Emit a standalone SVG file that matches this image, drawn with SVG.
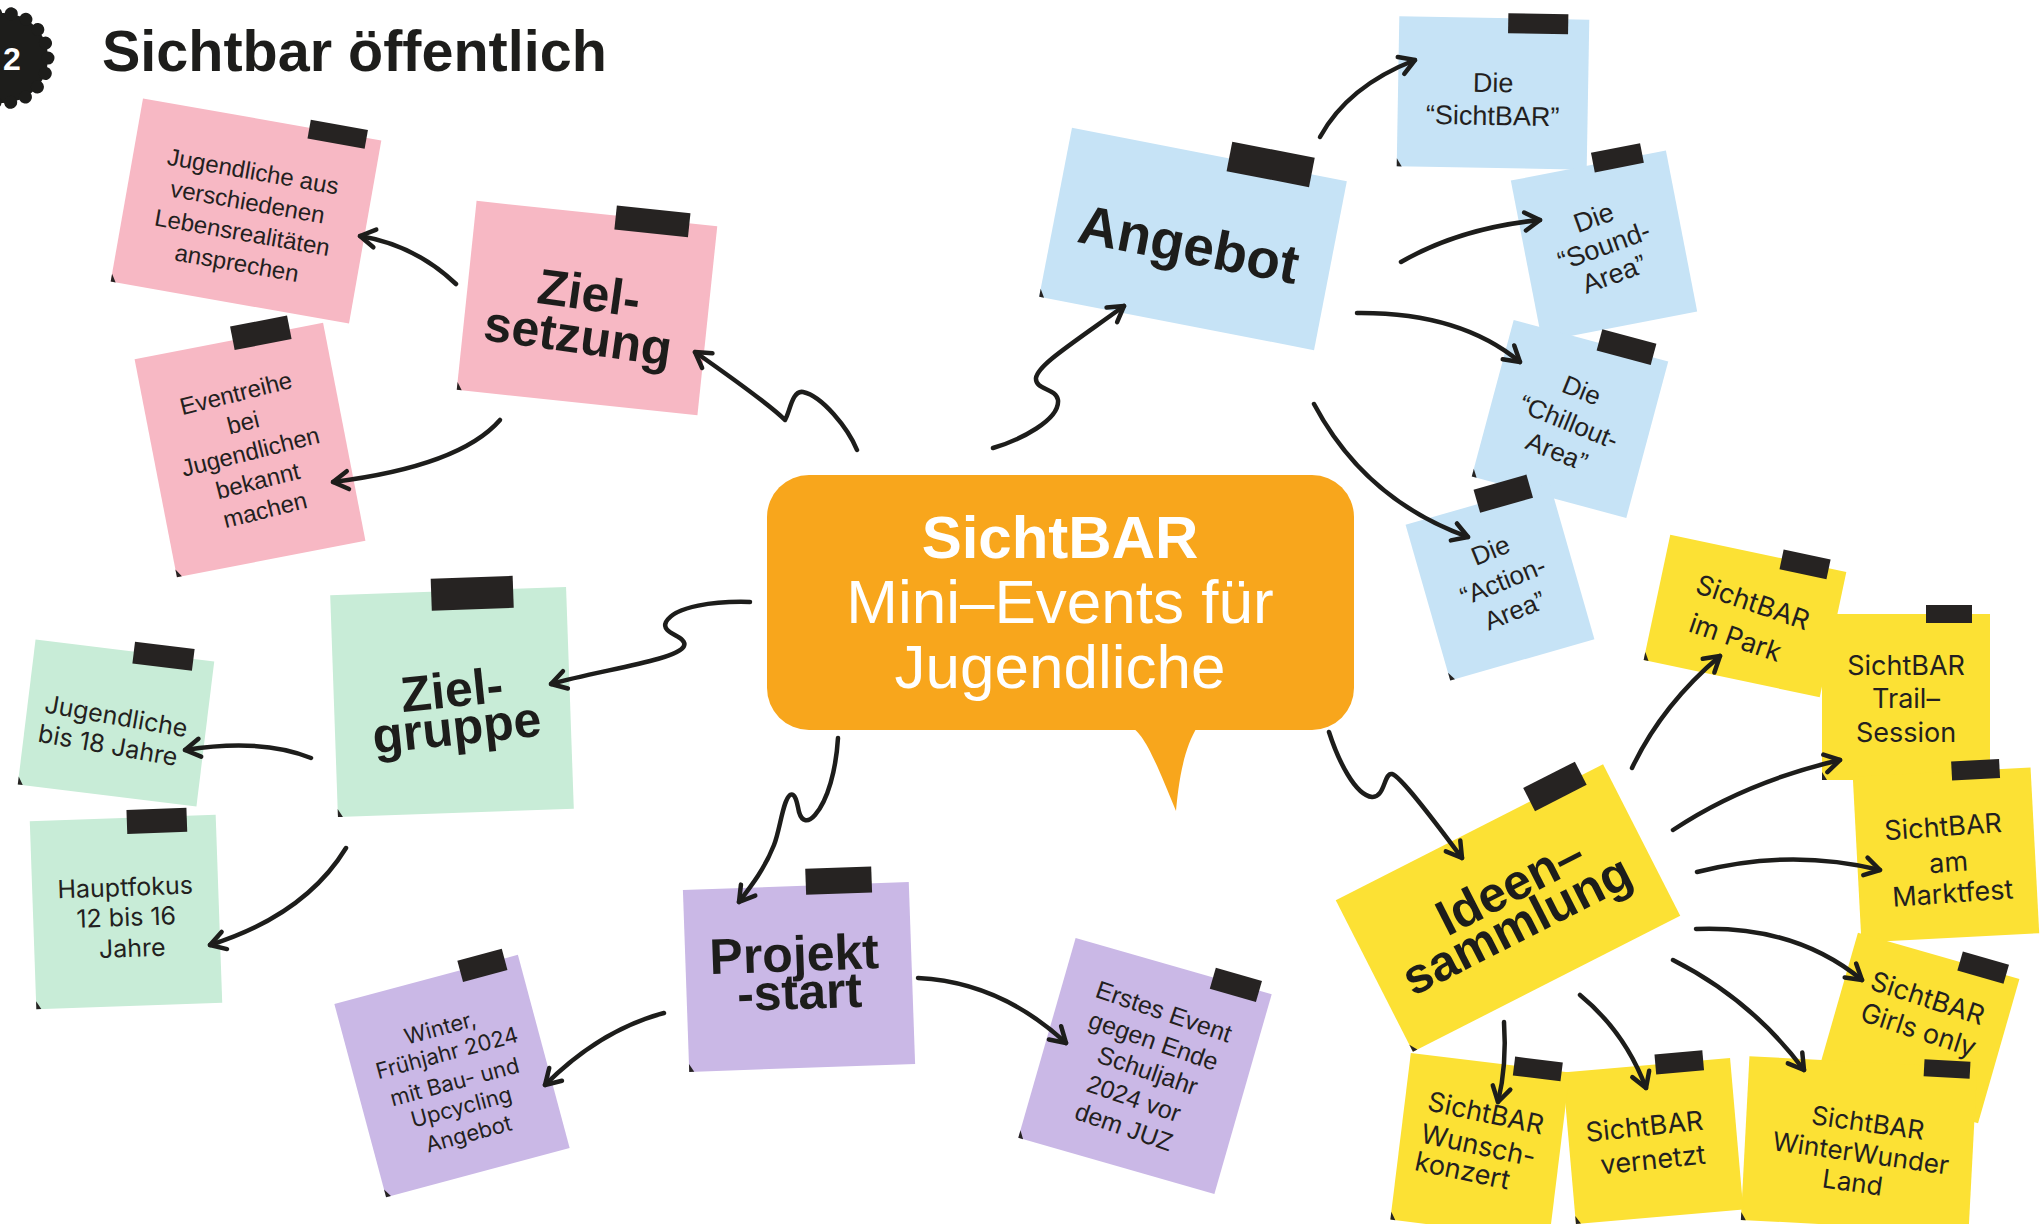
<svg xmlns="http://www.w3.org/2000/svg" width="2044" height="1224" viewBox="0 0 2044 1224">
<defs>
<style>
.pink{fill:#F7B8C4}
.blue{fill:#C6E3F6}
.green{fill:#C8ECD7}
.purple{fill:#CAB8E6}
.yellow{fill:#FCE134}
.tape{fill:#262322}
.pin{fill:#262322}
.hd{font-family:"Liberation Sans",Arial,Helvetica,sans-serif;font-weight:700;font-size:50px;fill:#1d1d1b;text-anchor:middle}
.nh{font-family:"Liberation Sans",Arial,Helvetica,sans-serif;font-size:24px;fill:#231f20;text-anchor:middle}
.ng{font-family:Inter,"Liberation Sans",Arial,sans-serif;font-size:25px;fill:#231f20;text-anchor:middle}
.con{fill:none;stroke:#1d1d1b;stroke-width:4.5;stroke-linecap:round;stroke-linejoin:round;marker-end:url(#ah)}
</style>
<marker id="ah" viewBox="0 0 24 24" refX="20" refY="12" markerWidth="24" markerHeight="24" markerUnits="userSpaceOnUse" orient="auto"><path d="M5,3 L20,12 L5,21" fill="none" stroke="#1d1d1b" stroke-width="4.5" stroke-linecap="round" stroke-linejoin="round"/></marker>
</defs>
<rect x="0" y="0" width="2044" height="1224" fill="#ffffff"/>

<g id="badge">
<circle cx="3" cy="58" r="45" fill="#1d1d1b"/>
<circle cx="3" cy="58" r="45" fill="none" stroke="#1d1d1b" stroke-width="13" stroke-dasharray="0.1 15.61" stroke-linecap="round"/>
<text x="12" y="70" font-family="Liberation Sans, Arial, sans-serif" font-weight="700" font-size="32" fill="#ffffff" text-anchor="middle">2</text>
</g>
<g id="title"><text x="102" y="71" font-family="Liberation Sans, Arial, sans-serif" font-weight="700" font-size="57.5" fill="#1d1d1b">Sichtbar öffentlich</text></g>

<g id="center">
<rect x="767" y="475" width="587" height="255" rx="42" fill="#F8A61C"/>
<path d="M1128,726 C1142,730 1152,752 1176,811 C1178,790 1182,750 1198,726 Z" fill="#F8A61C"/>
<text x="1060" y="558" font-family="Liberation Sans, Arial, sans-serif" font-weight="700" font-size="60" fill="#ffffff" text-anchor="middle">SichtBAR</text>
<text x="1060" y="623" font-family="Liberation Sans, Arial, sans-serif" font-size="62" fill="#ffffff" text-anchor="middle">Mini–Events für</text>
<text x="1060" y="688" font-family="Liberation Sans, Arial, sans-serif" font-size="62" fill="#ffffff" text-anchor="middle">Jugendliche</text>
</g>

<g id="n-jugendliche-aus" transform="translate(246,211) rotate(10)">
<rect class="pink" x="-121" y="-93" width="242" height="186"/>
<rect class="tape" x="48" y="-101" width="58" height="19"/>
<path class="pin" d="M-121,85 l5,8 h-5z"/>
<text class="nh"><tspan x="0" y="-32">Jugendliche aus</tspan><tspan x="0" y="-1">verschiedenen</tspan><tspan x="0" y="30">Lebensrealitäten</tspan><tspan x="0" y="61">ansprechen</tspan></text>
</g>

<g id="n-eventreihe" transform="translate(250,450) rotate(-11)">
<rect class="pink" x="-96" y="-111" width="192" height="222"/>
<rect class="tape" x="4" y="-125" width="58" height="24"/>
<path class="pin" d="M-96,103 l5,8 h-5z"/>
<text class="nh" transform="rotate(-3)"><tspan x="0" y="-50">Eventreihe</tspan><tspan x="0" y="-20">bei</tspan><tspan x="0" y="10">Jugendlichen</tspan><tspan x="0" y="40">bekannt</tspan><tspan x="0" y="70">machen</tspan></text>
</g>

<g id="n-zielsetzung" transform="translate(587,308) rotate(6)">
<rect class="pink" x="-121" y="-95" width="242" height="190"/>
<rect class="tape" x="19" y="-105" width="74" height="24"/>
<path class="pin" d="M-121,87 l5,8 h-5z"/>
<text class="hd" transform="rotate(2)"><tspan x="0" y="2">Ziel-</tspan><tspan x="-5" y="46">setzung</tspan></text>
</g>

<g id="n-angebot" transform="translate(1193,239) rotate(11)">
<rect class="blue" x="-140" y="-86" width="280" height="172"/>
<rect class="tape" x="20" y="-103" width="84" height="30"/>
<path class="pin" d="M-140,78 l5,8 h-5z"/>
<text class="hd" style="font-size:55px"><tspan x="-3" y="25">Angebot</tspan></text>
</g>

<g id="n-die-sichtbar" transform="translate(1493,93) rotate(1)">
<rect class="blue" x="-95" y="-75" width="190" height="150"/>
<rect class="tape" x="14" y="-80" width="60" height="20"/>
<path class="pin" d="M-95,67 l5,8 h-5z"/>
<text class="nh" style="font-size:27px"><tspan x="0" y="-1">Die</tspan><tspan x="0" y="32">“SichtBAR”</tspan></text>
</g>

<g id="n-sound" transform="translate(1604,246) rotate(-11)">
<rect class="blue" x="-79" y="-82" width="158" height="164"/>
<rect class="tape" x="5" y="-94" width="50" height="20"/>
<path class="pin" d="M-79,74 l5,8 h-5z"/>
<text class="nh" style="font-size:27px" transform="rotate(-9)"><tspan x="0" y="-21">Die</tspan><tspan x="0" y="9">“Sound-</tspan><tspan x="0" y="39">Area”</tspan></text>
</g>

<g id="n-chillout" transform="translate(1570,419) rotate(15)">
<rect class="blue" x="-80" y="-81" width="160" height="162"/>
<rect class="tape" x="8" y="-95" width="56" height="22"/>
<path class="pin" d="M-80,73 l5,8 h-5z"/>
<text class="nh" style="font-size:26px" transform="rotate(7)"><tspan x="0" y="-22">Die</tspan><tspan x="0" y="12">“Chillout-</tspan><tspan x="0" y="44">Area”</tspan></text>
</g>

<g id="n-action" transform="translate(1500,582) rotate(-16)">
<rect class="blue" x="-75" y="-81" width="150" height="162"/>
<rect class="tape" x="0" y="-96" width="55" height="24"/>
<path class="pin" d="M-75,73 l5,8 h-5z"/>
<text class="nh" style="font-size:26px" transform="rotate(-6)"><tspan x="3" y="-24">Die</tspan><tspan x="3" y="9">“Action-</tspan><tspan x="3" y="41">Area”</tspan></text>
</g>

<g id="n-zielgruppe" transform="translate(452,702) rotate(-2)">
<rect class="green" x="-118" y="-111" width="236" height="222"/>
<rect class="tape" x="-17" y="-124" width="82" height="32"/>
<path class="pin" d="M-118,103 l5,8 h-5z"/>
<text class="hd" transform="rotate(-4)"><tspan x="1" y="5">Ziel-</tspan><tspan x="2" y="43">gruppe</tspan></text>
</g>

<g id="n-bis18" transform="translate(116,723) rotate(7)">
<rect class="green" x="-90" y="-73" width="180" height="146"/>
<rect class="tape" x="9" y="-83" width="60" height="22"/>
<path class="pin" d="M-90,65 l5,8 h-5z"/>
<text class="ng" transform="rotate(3)"><tspan x="-1" y="2">Jugendliche</tspan><tspan x="-4" y="32">bis 18 Jahre</tspan></text>
</g>

<g id="n-hauptfokus" transform="translate(126,912) rotate(-2)">
<rect class="green" x="-93" y="-94" width="186" height="188"/>
<rect class="tape" x="4" y="-102" width="60" height="24"/>
<path class="pin" d="M-93,86 l5,8 h-5z"/>
<text class="ng"><tspan x="0" y="-16">Hauptfokus</tspan><tspan x="0" y="14">12 bis 16</tspan><tspan x="5" y="45">Jahre</tspan></text>
</g>

<g id="n-projektstart" transform="translate(799,977) rotate(-2)">
<rect class="purple" x="-113" y="-91" width="226" height="182"/>
<rect class="tape" x="10" y="-108" width="66" height="26"/>
<path class="pin" d="M-113,83 l5,8 h-5z"/>
<text class="hd"><tspan x="-4" y="-6">Projekt</tspan><tspan x="0" y="32">-start</tspan></text>
</g>

<g id="n-winter" transform="translate(452,1076) rotate(-15)">
<rect class="purple" x="-95" y="-100" width="190" height="200"/>
<rect class="tape" x="35" y="-110" width="46" height="22"/>
<path class="pin" d="M-95,92 l5,8 h-5z"/>
<text class="ng" style="font-size:22px"><tspan x="1" y="-42">Winter,</tspan><tspan x="1" y="-16">Frühjahr 2024</tspan><tspan x="1" y="14">mit Bau- und</tspan><tspan x="1" y="40">Upcycling</tspan><tspan x="1" y="68">Angebot</tspan></text>
</g>

<g id="n-erstes" transform="translate(1145,1066) rotate(16)">
<rect class="purple" x="-102" y="-104" width="204" height="208"/>
<rect class="tape" x="41" y="-114" width="48" height="22"/>
<path class="pin" d="M-102,96 l5,8 h-5z"/>
<text class="nh" style="font-size:25px" transform="rotate(3)"><tspan x="0" y="-49">Erstes Event</tspan><tspan x="0" y="-18">gegen Ende</tspan><tspan x="4" y="12">Schuljahr</tspan><tspan x="0" y="43">2024 vor</tspan><tspan x="0" y="73">dem JUZ</tspan></text>
</g>

<g id="n-ideen" transform="translate(1508,908) rotate(-27)">
<rect class="yellow" x="-150" y="-85" width="300" height="170"/>
<rect class="tape" x="68" y="-100" width="58" height="26"/>
<path class="pin" d="M-150,77 l5,8 h-5z"/>
<text class="hd"><tspan x="12" y="-2">Ideen–</tspan><tspan x="0" y="36">sammlung</tspan></text>
</g>

<g id="n-park" transform="translate(1745,616) rotate(12)">
<rect class="yellow" x="-90" y="-64" width="180" height="128"/>
<rect class="tape" x="24" y="-73" width="48" height="20"/>
<path class="pin" d="M-90,56 l5,8 h-5z"/>
<text class="ng" style="font-size:27px" transform="rotate(7)"><tspan x="3" y="-6">SichtBAR</tspan><tspan x="-2" y="33">im Park</tspan></text>
</g>

<g id="n-trail" transform="translate(1906,697)">
<rect class="yellow" x="-84" y="-83" width="168" height="166"/>
<rect class="tape" x="20" y="-92" width="46" height="18"/>
<path class="pin" d="M-84,75 l5,8 h-5z"/>
<text class="ng" style="font-size:27px"><tspan x="0" y="-22">SichtBAR</tspan><tspan x="0" y="11">Trail–</tspan><tspan x="0" y="45">Session</tspan></text>
</g>

<g id="n-markt" transform="translate(1946,855) rotate(-3)">
<rect class="yellow" x="-89" y="-83" width="178" height="166"/>
<rect class="tape" x="10" y="-93" width="48" height="19"/>
<path class="pin" d="M-89,75 l5,8 h-5z"/>
<text class="ng" style="font-size:27px" transform="rotate(-1)"><tspan x="-1" y="-19">SichtBAR</tspan><tspan x="2" y="17">am</tspan><tspan x="4" y="48">Marktfest</tspan></text>
</g>

<g id="n-girls" transform="translate(1918,1028) rotate(16)">
<rect class="yellow" x="-84" y="-75" width="168" height="150"/>
<rect class="tape" x="22" y="-86" width="48" height="20"/>
<text class="ng" style="font-size:27px" transform="rotate(2)"><tspan x="0" y="-22">SichtBAR</tspan><tspan x="1" y="11">Girls only</tspan></text>
</g>

<g id="n-winterwunder" transform="translate(1859,1144) rotate(3)">
<rect class="yellow" x="-114" y="-82" width="228" height="164"/>
<rect class="tape" x="61" y="-88" width="46" height="17"/>
<path class="pin" d="M-114,74 l5,8 h-5z"/>
<text class="ng" style="font-size:26px" transform="rotate(5)"><tspan x="6" y="-13">SichtBAR</tspan><tspan x="3" y="18">WinterWunder</tspan><tspan x="-1" y="48">Land</tspan></text>
</g>

<g id="n-vernetzt" transform="translate(1653,1141) rotate(-5)">
<rect class="yellow" x="-84" y="-76" width="168" height="152"/>
<rect class="tape" x="9" y="-86" width="48" height="20"/>
<path class="pin" d="M-84,68 l5,8 h-5z"/>
<text class="ng" style="font-size:27px" transform="rotate(-1)"><tspan x="-7" y="-6">SichtBAR</tspan><tspan x="-2" y="28">vernetzt</tspan></text>
</g>

<g id="n-wunsch" transform="translate(1480,1146) rotate(7)">
<rect class="yellow" x="-80" y="-84" width="160" height="168"/>
<rect class="tape" x="24" y="-93" width="48" height="19"/>
<path class="pin" d="M-80,76 l5,8 h-5z"/>
<text class="ng" style="font-size:27px;text-anchor:start" transform="rotate(5)"><tspan x="-60" y="-24">SichtBAR</tspan><tspan x="-60" y="9">Wunsch-</tspan><tspan x="-60" y="37">konzert</tspan></text>
</g>

<g id="connectors">
<path class="con" d="M857,450 C848,428 822,396 803,392 C792,390 790,412 785,420 C770,405 735,380 695,352"/>
<path class="con" d="M456,284 Q415,245 360,236"/>
<path class="con" d="M500,420 Q460,466 333,482"/>
<path class="con" d="M993,448 C1020,440 1060,420 1058,400 C1056,388 1035,390 1036,378 C1038,365 1070,345 1124,306"/>
<path class="con" d="M1320,137 Q1348,86 1415,60"/>
<path class="con" d="M1401,262 Q1460,228 1540,220"/>
<path class="con" d="M1357,313 Q1460,312 1520,362"/>
<path class="con" d="M1314,404 Q1365,500 1468,537"/>
<path class="con" d="M750,602 C715,601 675,606 666,622 C660,634 688,636 684,646 C678,660 600,670 551,684"/>
<path class="con" d="M311,758 Q262,738 185,750"/>
<path class="con" d="M346,848 Q305,915 210,945"/>
<path class="con" d="M838,738 C836,770 828,800 815,815 C808,823 802,822 799,812 C797,802 795,792 790,795 C783,800 780,830 774,845 C765,868 752,885 739,902"/>
<path class="con" d="M664,1013 Q600,1030 545,1085"/>
<path class="con" d="M918,978 Q1000,982 1066,1043"/>
<path class="con" d="M1329,732 C1338,760 1355,795 1372,797 C1385,798 1384,772 1392,774 C1400,776 1430,815 1462,858"/>
<path class="con" d="M1632,768 Q1662,705 1720,656"/>
<path class="con" d="M1673,830 Q1745,782 1840,760"/>
<path class="con" d="M1697,872 Q1790,848 1880,870"/>
<path class="con" d="M1696,929 Q1795,925 1862,980"/>
<path class="con" d="M1673,960 Q1752,1000 1804,1070"/>
<path class="con" d="M1580,995 Q1625,1032 1646,1088"/>
<path class="con" d="M1504,1022 Q1507,1065 1498,1102"/>
</g>
</svg>
